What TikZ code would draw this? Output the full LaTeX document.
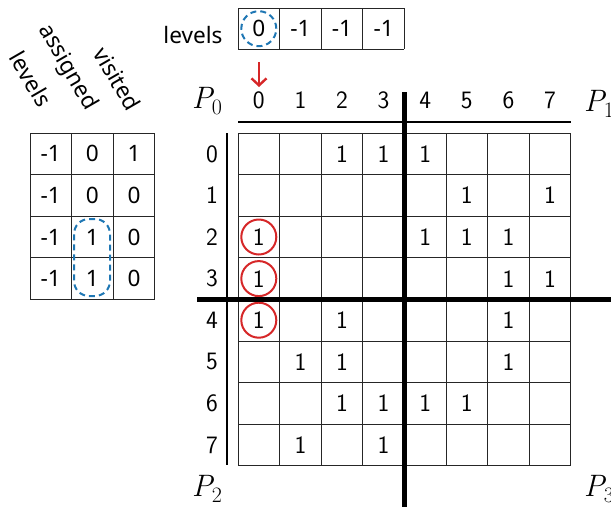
\documentclass[tikz,border=0pt]{standalone}
\usepackage{fontspec}
\newfontfamily\tabfont{Noto Sans}
\usetikzlibrary{arrows.meta}
\definecolor{hlred}{RGB}{214,39,40}
\definecolor{hlblue}{RGB}{31,119,180}
\newcommand{\plab}[1]{{\rmfamily\itshape P}\kern-0.5pt\raisebox{-5.5pt}{\rmfamily\fontsize{22}{24}\selectfont #1}}
\begin{document}
\begin{tikzpicture}[x=1pt,y=-1pt,
  every node/.style={font=\fontsize{25}{30}\selectfont\sffamily, inner sep=0pt},
  tabtext/.style={font=\fontsize{22.6}{27}\selectfont\tabfont},
  gridline/.style={line width=0.9pt, black!85},
  thickline/.style={line width=5pt, black},
  plabel/.style={font=\fontsize{31}{37}\selectfont\rmfamily},
  redring/.style={draw=hlred, circle, line width=2pt, minimum size=35pt},
  bluedash/.style={draw=hlblue, line width=2pt, dash pattern=on 6pt off 4pt}]
\useasboundingbox (0,0) rectangle (611,507);
\def\cw{41.6}
% ---------- levels row ----------
\node[tabtext] (levlab) at (193,35.5) {levels};
\foreach \i/\v in {0/0,1/-1,2/-1,3/-1}{
  \node[tabtext] (lv\i) at ({238+\cw*(\i+0.5)},28.7) {\v};
}
\foreach \i in {0,...,4}{ \draw[gridline] ({238+\cw*\i},8) -- ({238+\cw*\i},49.3); }
\draw[gridline] (238,8) -- (404.4,8);
\draw[gridline] (238,49.3) -- (404.4,49.3);
\node[bluedash, circle, minimum size=35pt] (lvring) at (lv0) {};
% red arrow
\coordinate (arrtop) at (259,62);
\coordinate (arrbot) at (259,87);
\draw[hlred, line width=2.4pt, -{Straight Barb[length=7pt,width=15pt]}] (arrtop) -- (arrbot);
% ---------- left table ----------
\node[tabtext, rotate=-60] (hlev) at (31,79) {levels};
\node[tabtext, rotate=-60] (hass) at (67.5,67.5) {assigned};
\node[tabtext, rotate=-60] (hvis) at (117.5,79) {visited};
\foreach \r/\a/\b/\c in {0/-1/0/1,1/-1/0/0,2/-1/1/0,3/-1/1/0}{
  \node[tabtext] (t\r a) at ({30+\cw*0.5},{133+\cw*(\r+0.5)}) {\a};
  \node[tabtext] (t\r b) at ({30+\cw*1.5},{133+\cw*(\r+0.5)}) {\b};
  \node[tabtext] (t\r c) at ({30+\cw*2.5},{133+\cw*(\r+0.5)}) {\c};
}
\foreach \i in {0,...,3}{ \draw[gridline] ({30+\cw*\i},133) -- ({30+\cw*\i},299.4); }
\foreach \i in {0,...,4}{ \draw[gridline] (30,{133+\cw*\i}) -- (154.8,{133+\cw*\i}); }
\node[bluedash, rectangle, rounded corners=15pt, minimum width=36pt, minimum height=77pt] (tring) at (92,257.5) {};
% ---------- main grid ----------
\foreach \i in {0,...,7}{
  \node (ch\i) at ({238+\cw*(\i+0.5)},100.5) {\i};
  \node (rh\i) at (212,{133+\cw*(\i+0.5)}) {\i};
}
\draw[line width=1.3pt] (238,122) -- (571,122);
\draw[line width=1.3pt] (227,133) -- (227,465);
\foreach \i in {0,...,8}{
  \draw[gridline] ({238+\cw*\i},133) -- ({238+\cw*\i},465.8);
  \draw[gridline] (238,{133+\cw*\i}) -- (570.8,{133+\cw*\i});
}
\foreach \r/\c in {0/2,0/3,0/4,1/5,1/7,2/0,2/4,2/5,2/6,3/0,3/6,3/7,4/0,4/2,4/6,5/1,5/2,5/6,6/2,6/3,6/4,6/5,7/1,7/3}{
  \node (m\r-\c) at ({238+\cw*(\c+0.5)},{133+\cw*(\r+0.5)}) {1};
}
\node[redring] (ring2) at (m2-0) {};
\node[redring] (ring3) at (m3-0) {};
\node[redring] (ring4) at (m4-0) {};
% partition lines
\draw[thickline] (404,92) -- (404,507);
\draw[thickline] (197,299) -- (611,299);
% processor labels
\node[plabel] (p0) at (207,101) {\plab{0}};
\node[plabel] (p1) at (599,104) {\plab{1}};
\node[plabel] (p2) at (207,489) {\plab{2}};
\node[plabel] (p3) at (599,489) {\plab{3}};
\end{tikzpicture}
\end{document}
